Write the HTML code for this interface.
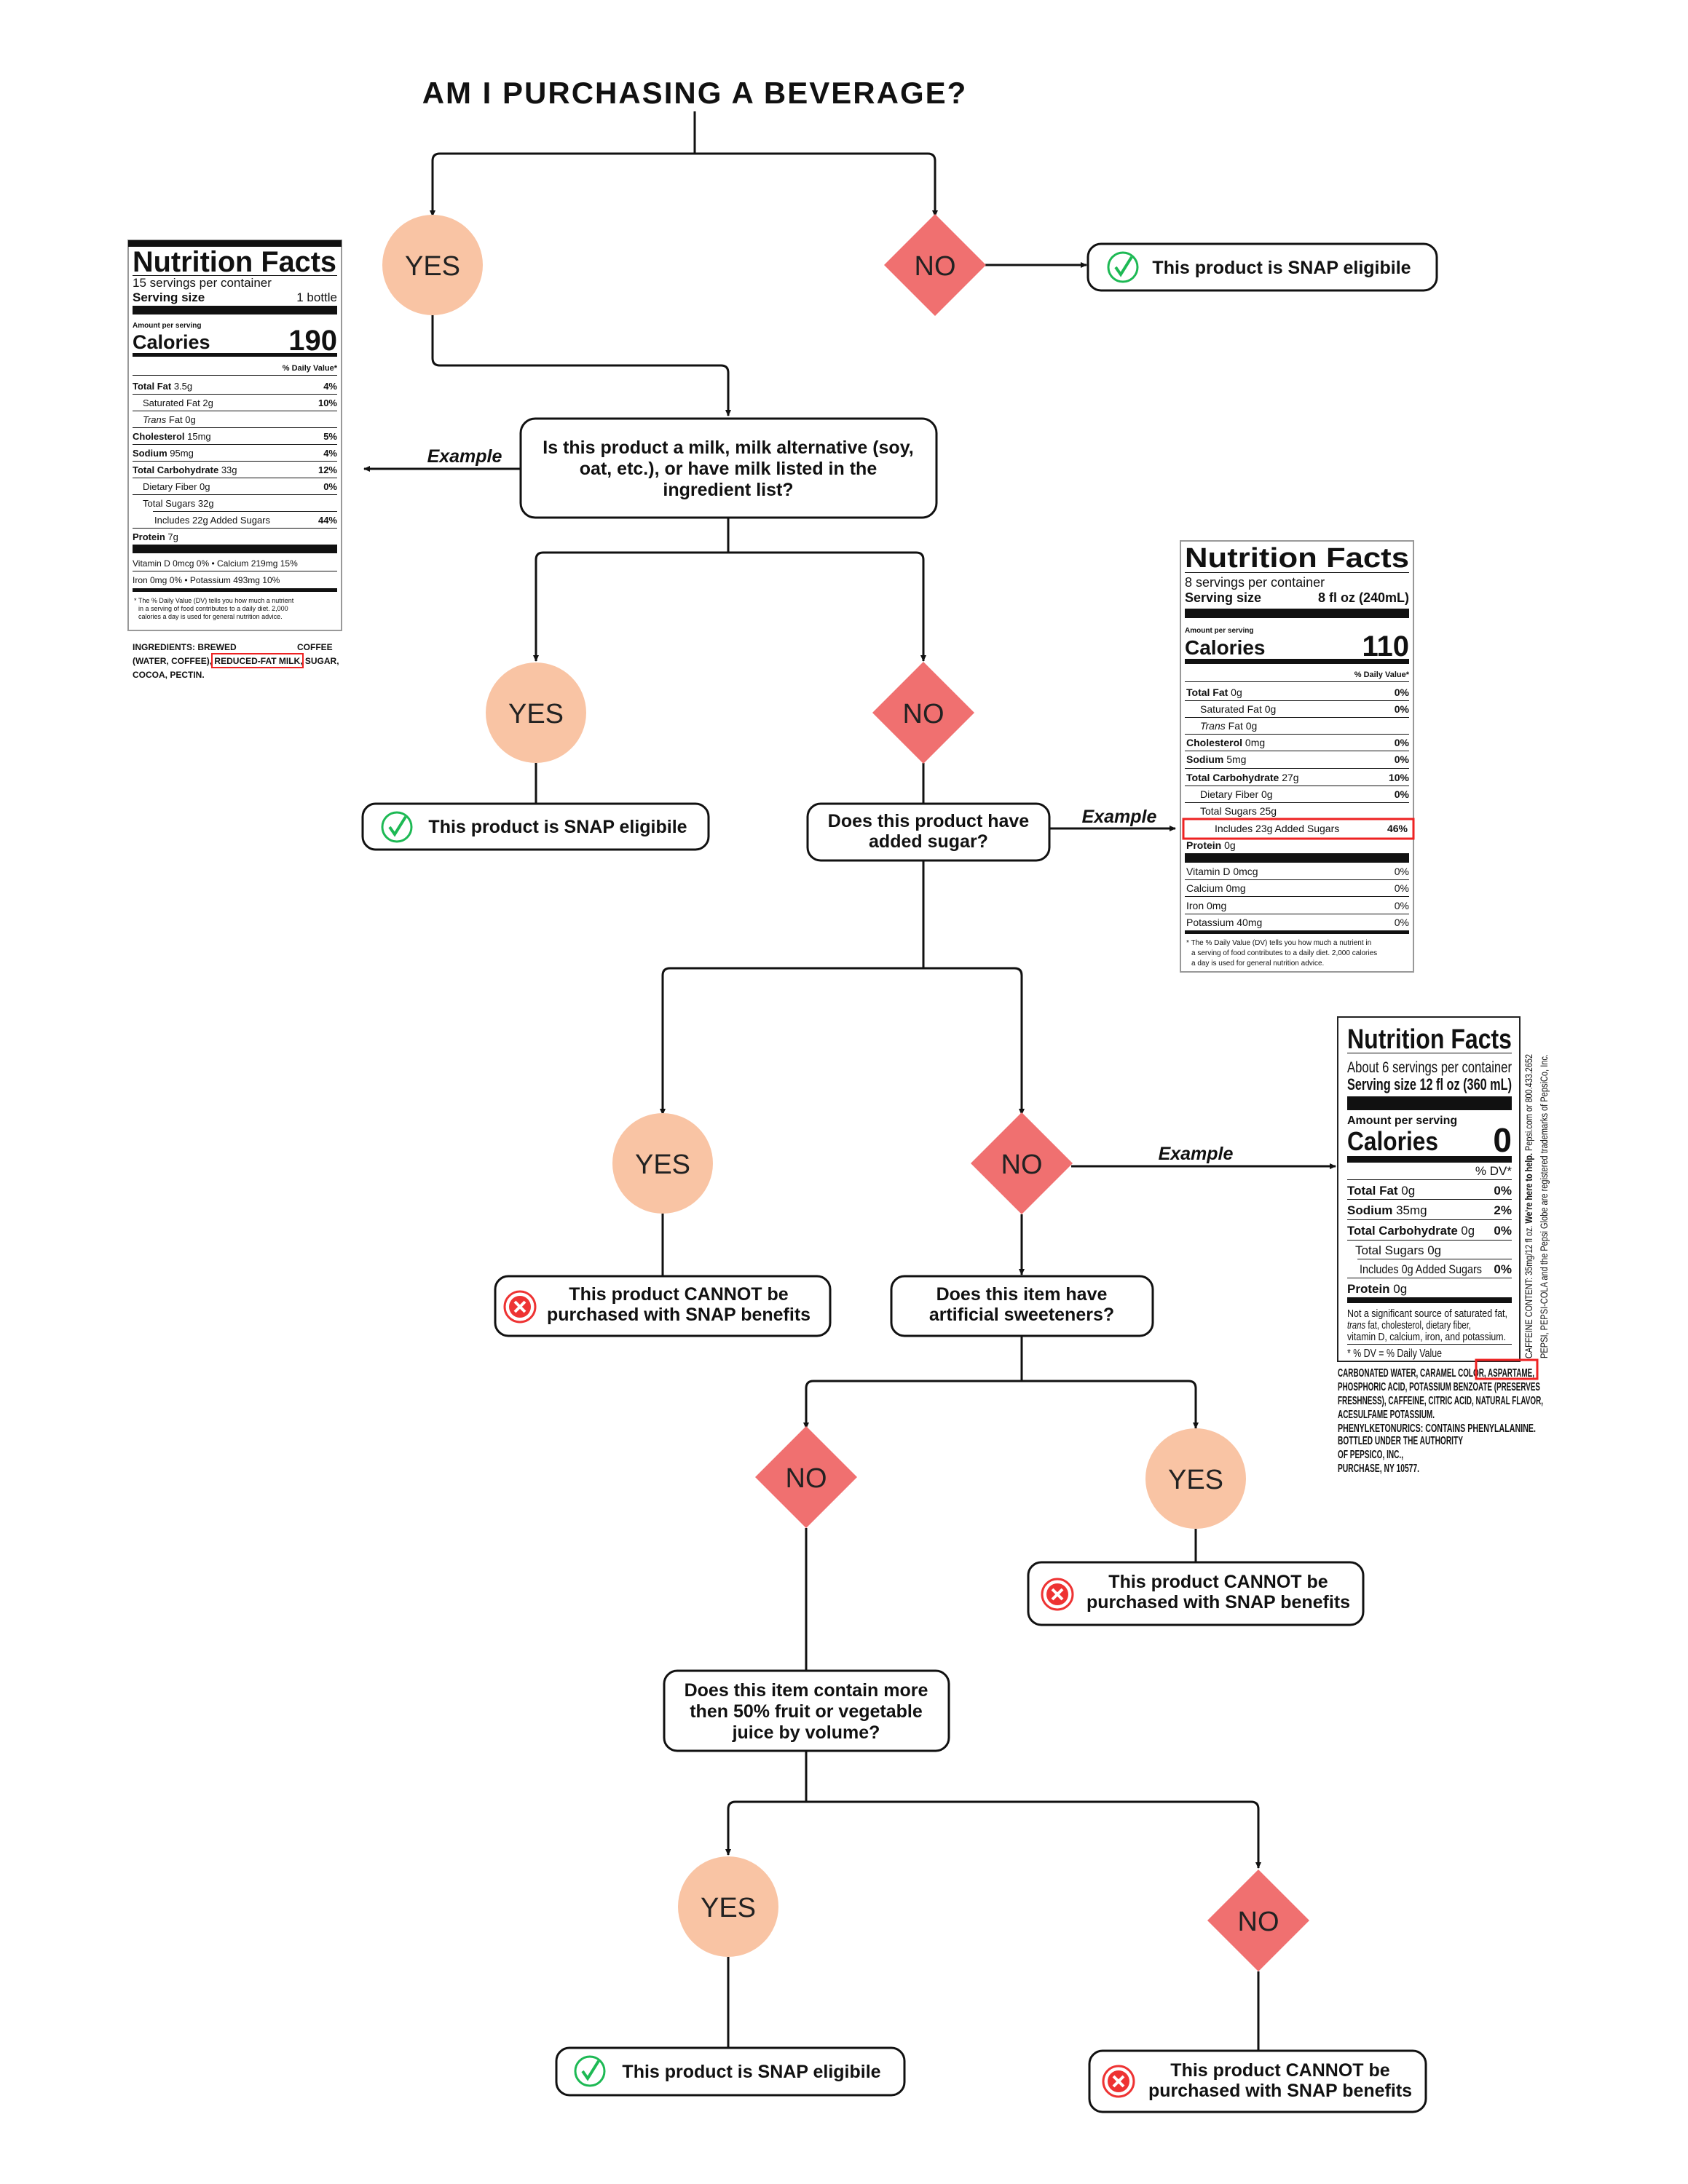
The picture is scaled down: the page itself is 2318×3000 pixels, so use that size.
<!DOCTYPE html>
<html><head><meta charset="utf-8"><style>
html,body{margin:0;padding:0;background:#fff}
svg{display:block}
text{font-family:"Liberation Sans",sans-serif}
.q{font-weight:bold;font-size:25px;fill:#111;text-anchor:middle}
.yn{font-size:38px;fill:#222;text-anchor:middle}
.ex{font-weight:bold;font-style:italic;font-size:25px;fill:#111;text-anchor:middle}
.b{fill:none;stroke:#111;stroke-width:3}
.ln{stroke:#111;stroke-width:3;fill:none}
</style></head><body>
<svg width="2318" height="3000" viewBox="0 0 2318 3000" xmlns="http://www.w3.org/2000/svg">
<defs>
<marker id="a" markerWidth="10" markerHeight="10" refX="8" refY="5" orient="auto" markerUnits="userSpaceOnUse"><path d="M0,1 L9,5 L0,9 Z" fill="#111"/></marker>
<g id="chk"><circle r="20" fill="none" stroke="#1db954" stroke-width="3"/><path d="M-10,0 L-3,10 L12,-14" fill="none" stroke="#1db954" stroke-width="4"/></g>
<g id="xx"><circle r="21" fill="none" stroke="#e33" stroke-width="3"/><circle r="15" fill="#e33"/><path d="M-7,-7 L7,7 M7,-7 L-7,7" stroke="#fff" stroke-width="4"/></g>
</defs>

<text x="954" y="142" font-size="42" font-weight="bold" text-anchor="middle" fill="#111" letter-spacing="2">AM I PURCHASING A BEVERAGE?</text>

<!-- connectors -->
<path class="ln" d="M954,153 V211 M594,297 V221 Q594,211 604,211 H1274 Q1284,211 1284,221 V297" marker-end="url(#a)"/>
<path class="ln" d="M594,221 V297" marker-end="url(#a)"/>
<path class="ln" d="M1353,364 H1492" marker-end="url(#a)"/>
<path class="ln" d="M594,433 V492 Q594,502 604,502 H990 Q1000,502 1000,512 V571" marker-end="url(#a)"/>
<path class="ln" d="M715,644 H500" marker-end="url(#a)"/>
<path class="ln" d="M1000,711 V759 M736,908 V769 Q736,759 746,759 H1258 Q1268,759 1268,769 V908" marker-end="url(#a)"/>
<path class="ln" d="M736,769 V908" marker-end="url(#a)"/>
<path class="ln" d="M736,1048 V1104 M1268,1048 V1104"/>
<path class="ln" d="M1441,1138 H1614" marker-end="url(#a)"/>
<path class="ln" d="M1268,1182 V1330 M910,1531 V1340 Q910,1330 920,1330 H1393 Q1403,1330 1403,1340 V1531" marker-end="url(#a)"/>
<path class="ln" d="M910,1340 V1531" marker-end="url(#a)"/>
<path class="ln" d="M910,1667 V1753"/>
<path class="ln" d="M1403,1668 V1751" marker-end="url(#a)"/>
<path class="ln" d="M1471,1602 H1834" marker-end="url(#a)"/>
<path class="ln" d="M1403,1835 V1897 M1107,1962 V1907 Q1107,1897 1117,1897 H1632 Q1642,1897 1642,1907 V1962" marker-end="url(#a)"/>
<path class="ln" d="M1107,1907 V1962" marker-end="url(#a)"/>
<path class="ln" d="M1642,2100 V2146 M1107,2099 V2295"/>
<path class="ln" d="M1107,2405 V2475 M1000,2548 V2485 Q1000,2475 1010,2475 H1718 Q1728,2475 1728,2485 V2566" marker-end="url(#a)"/>
<path class="ln" d="M1000,2485 V2548" marker-end="url(#a)"/>
<path class="ln" d="M1000,2688 V2813 M1728,2708 V2817"/>

<!-- nodes -->
<circle cx="594" cy="364" r="69" fill="#f9c4a4"/><text class="yn" x="594" y="378">YES</text>
<path d="M1284,294 L1354,364 L1284,434 L1214,364 Z" fill="#f07070"/><text class="yn" x="1284" y="378">NO</text>
<rect class="b" x="1494" y="335" width="479" height="64" rx="18"/><use href="#chk" x="1542" y="367"/><text class="q" x="1760" y="376">This product is SNAP eligibile</text>

<rect class="b" x="715" y="575" width="571" height="136" rx="20"/>
<text class="q" x="1000" y="623">Is this product a milk, milk alternative (soy,</text>
<text class="q" x="1000" y="652">oat, etc.), or have milk listed in the</text>
<text class="q" x="1000" y="681">ingredient list?</text>
<text class="ex" x="638" y="635">Example</text>

<circle cx="736" cy="979" r="69" fill="#f9c4a4"/><text class="yn" x="736" y="993">YES</text>
<path d="M1268,909 L1338,979 L1268,1049 L1198,979 Z" fill="#f07070"/><text class="yn" x="1268" y="993">NO</text>
<rect class="b" x="498" y="1104" width="475" height="63" rx="18"/><use href="#chk" x="545" y="1136"/><text class="q" x="766" y="1144">This product is SNAP eligibile</text>
<rect class="b" x="1109" y="1104" width="332" height="78" rx="18"/>
<text class="q" x="1275" y="1136">Does this product have</text><text class="q" x="1275" y="1164">added sugar?</text>
<text class="ex" x="1537" y="1130">Example</text>

<circle cx="910" cy="1598" r="69" fill="#f9c4a4"/><text class="yn" x="910" y="1612">YES</text>
<path d="M1403,1528 L1473,1598 L1403,1668 L1333,1598 Z" fill="#f07070"/><text class="yn" x="1403" y="1612">NO</text>
<text class="ex" x="1642" y="1593">Example</text>
<rect class="b" x="680" y="1753" width="460" height="82" rx="18"/><use href="#xx" x="714" y="1795"/>
<text class="q" x="932" y="1786">This product CANNOT be</text><text class="q" x="932" y="1814">purchased with SNAP benefits</text>
<rect class="b" x="1224" y="1753" width="359" height="82" rx="18"/>
<text class="q" x="1403" y="1786">Does this item have</text><text class="q" x="1403" y="1814">artificial sweeteners?</text>

<path d="M1107,1959 L1177,2029 L1107,2099 L1037,2029 Z" fill="#f07070"/><text class="yn" x="1107" y="2043">NO</text>
<circle cx="1642" cy="2031" r="69" fill="#f9c4a4"/><text class="yn" x="1642" y="2045">YES</text>
<rect class="b" x="1412" y="2146" width="460" height="86" rx="18"/><use href="#xx" x="1452" y="2190"/>
<text class="q" x="1673" y="2181">This product CANNOT be</text><text class="q" x="1673" y="2209">purchased with SNAP benefits</text>

<rect class="b" x="912" y="2295" width="391" height="110" rx="18"/>
<text class="q" x="1107" y="2330">Does this item contain more</text>
<text class="q" x="1107" y="2359">then 50% fruit or vegetable</text>
<text class="q" x="1107" y="2388">juice by volume?</text>

<circle cx="1000" cy="2619" r="69" fill="#f9c4a4"/><text class="yn" x="1000" y="2633">YES</text>
<path d="M1728,2568 L1798,2638 L1728,2708 L1658,2638 Z" fill="#f07070"/><text class="yn" x="1728" y="2652">NO</text>
<rect class="b" x="764" y="2813" width="478" height="65" rx="18"/><use href="#chk" x="810" y="2845"/><text class="q" x="1032" y="2854">This product is SNAP eligibile</text>
<rect class="b" x="1496" y="2817" width="462" height="84" rx="18"/><use href="#xx" x="1536" y="2859"/>
<text class="q" x="1758" y="2852">This product CANNOT be</text><text class="q" x="1758" y="2880">purchased with SNAP benefits</text>

<!-- left nutrition label -->
<g fill="#111">
<rect x="176" y="330" width="293" height="536" fill="none" stroke="#999" stroke-width="2"/>
<rect x="176" y="330" width="293" height="9" fill="#111"/>
<text x="182" y="373" font-size="40" font-weight="bold" textLength="280" lengthAdjust="spacingAndGlyphs">Nutrition Facts</text>
<rect x="182" y="378" width="281" height="1"/>
<text x="182" y="394" font-size="17">15 servings per container</text>
<text x="182" y="414" font-size="17" font-weight="bold">Serving size</text><text x="463" y="414" font-size="17" text-anchor="end">1 bottle</text>
<rect x="182" y="420" width="281" height="12"/>
<text x="182" y="450" font-size="10" font-weight="bold">Amount per serving</text>
<text x="182" y="479" font-size="27" font-weight="bold">Calories</text><text x="463" y="481" font-size="40" font-weight="bold" text-anchor="end">190</text>
<rect x="182" y="485" width="281" height="5"/>
<text x="463" y="509" font-size="11" font-weight="bold" text-anchor="end">% Daily Value*</text>
<g font-size="13">
<rect x="182" y="515" width="281" height="1"/>
<text x="182" y="535"><tspan font-weight="bold">Total Fat</tspan> 3.5g</text><text x="463" y="535" text-anchor="end" font-weight="bold">4%</text>
<rect x="182" y="541" width="281" height="1"/>
<text x="196" y="558">Saturated Fat 2g</text><text x="463" y="558" text-anchor="end" font-weight="bold">10%</text>
<rect x="182" y="564" width="281" height="1"/>
<text x="196" y="581"><tspan font-style="italic">Trans</tspan> Fat 0g</text>
<rect x="182" y="587" width="281" height="1"/>
<text x="182" y="604"><tspan font-weight="bold">Cholesterol</tspan> 15mg</text><text x="463" y="604" text-anchor="end" font-weight="bold">5%</text>
<rect x="182" y="610" width="281" height="1"/>
<text x="182" y="627"><tspan font-weight="bold">Sodium</tspan> 95mg</text><text x="463" y="627" text-anchor="end" font-weight="bold">4%</text>
<rect x="182" y="633" width="281" height="1"/>
<text x="182" y="650"><tspan font-weight="bold">Total Carbohydrate</tspan> 33g</text><text x="463" y="650" text-anchor="end" font-weight="bold">12%</text>
<rect x="182" y="656" width="281" height="1"/>
<text x="196" y="673">Dietary Fiber 0g</text><text x="463" y="673" text-anchor="end" font-weight="bold">0%</text>
<rect x="182" y="679" width="281" height="1"/>
<text x="196" y="696">Total Sugars 32g</text>
<rect x="210" y="702" width="253" height="1"/>
<text x="212" y="719">Includes 22g Added Sugars</text><text x="463" y="719" text-anchor="end" font-weight="bold">44%</text>
<rect x="182" y="725" width="281" height="1"/>
<text x="182" y="742"><tspan font-weight="bold">Protein</tspan> 7g</text>
<rect x="182" y="748" width="281" height="12"/>
<text x="182" y="778" font-size="12">Vitamin D 0mcg 0%  •  Calcium 219mg 15%</text>
<rect x="182" y="784" width="281" height="1"/>
<text x="182" y="801" font-size="12">Iron 0mg 0%     •     Potassium 493mg 10%</text>
<rect x="182" y="808" width="281" height="5"/>
</g>
<g font-size="9"><text x="184" y="828">* The % Daily Value (DV) tells you how much a nutrient</text><text x="190" y="839">in a serving of food contributes to a daily diet. 2,000</text><text x="190" y="850">calories a day is used for general nutrition advice.</text></g>
<g font-size="12" font-weight="bold"><text x="182" y="893">INGREDIENTS: BREWED</text><text x="408" y="893">COFFEE</text>
<text x="182" y="912">(WATER, COFFEE), REDUCED-FAT MILK, SUGAR,</text>
<text x="182" y="931">COCOA, PECTIN.</text></g>
<rect x="291" y="898" width="125" height="19" fill="none" stroke="#e22" stroke-width="2"/>
</g>

<!-- middle nutrition label -->
<g fill="#111">
<rect x="1621" y="743" width="320" height="592" fill="none" stroke="#999" stroke-width="2"/>
<text x="1627" y="779" font-size="38" font-weight="bold" textLength="308" lengthAdjust="spacingAndGlyphs">Nutrition Facts</text>
<rect x="1627" y="786" width="308" height="1"/>
<text x="1627" y="806" font-size="18">8 servings per container</text>
<text x="1627" y="827" font-size="18" font-weight="bold">Serving size</text><text x="1935" y="827" font-size="18" font-weight="bold" text-anchor="end">8 fl oz (240mL)</text>
<rect x="1627" y="836" width="308" height="13"/>
<text x="1627" y="869" font-size="10" font-weight="bold">Amount per serving</text>
<text x="1627" y="899" font-size="28" font-weight="bold">Calories</text><text x="1935" y="901" font-size="40" font-weight="bold" text-anchor="end">110</text>
<rect x="1627" y="905" width="308" height="7"/>
<text x="1935" y="930" font-size="11" font-weight="bold" text-anchor="end">% Daily Value*</text>
<g font-size="14">
<rect x="1627" y="936" width="308" height="1"/>
<text x="1629" y="956"><tspan font-weight="bold">Total Fat</tspan> 0g</text><text x="1935" y="956" text-anchor="end" font-weight="bold">0%</text>
<rect x="1627" y="962" width="308" height="1"/>
<text x="1648" y="979">Saturated Fat 0g</text><text x="1935" y="979" text-anchor="end" font-weight="bold">0%</text>
<rect x="1627" y="985" width="308" height="1"/>
<text x="1648" y="1002"><tspan font-style="italic">Trans</tspan> Fat 0g</text>
<rect x="1627" y="1008" width="308" height="1"/>
<text x="1629" y="1025"><tspan font-weight="bold">Cholesterol</tspan> 0mg</text><text x="1935" y="1025" text-anchor="end" font-weight="bold">0%</text>
<rect x="1627" y="1031" width="308" height="1"/>
<text x="1629" y="1048"><tspan font-weight="bold">Sodium</tspan> 5mg</text><text x="1935" y="1048" text-anchor="end" font-weight="bold">0%</text>
<rect x="1627" y="1055" width="308" height="1"/>
<text x="1629" y="1073"><tspan font-weight="bold">Total Carbohydrate</tspan> 27g</text><text x="1935" y="1073" text-anchor="end" font-weight="bold">10%</text>
<rect x="1627" y="1079" width="308" height="1"/>
<text x="1648" y="1096">Dietary Fiber 0g</text><text x="1935" y="1096" text-anchor="end" font-weight="bold">0%</text>
<rect x="1627" y="1102" width="308" height="1"/>
<text x="1648" y="1119">Total Sugars 25g</text>
<text x="1668" y="1143">Includes 23g Added Sugars</text><text x="1933" y="1143" text-anchor="end" font-weight="bold">46%</text>
<text x="1629" y="1166"><tspan font-weight="bold">Protein</tspan> 0g</text>
<rect x="1627" y="1172" width="308" height="13"/>
<text x="1629" y="1202">Vitamin D 0mcg</text><text x="1935" y="1202" text-anchor="end">0%</text>
<rect x="1627" y="1208" width="308" height="1"/>
<text x="1629" y="1225">Calcium 0mg</text><text x="1935" y="1225" text-anchor="end">0%</text>
<rect x="1627" y="1231" width="308" height="1"/>
<text x="1629" y="1249">Iron 0mg</text><text x="1935" y="1249" text-anchor="end">0%</text>
<rect x="1627" y="1255" width="308" height="1"/>
<text x="1629" y="1272">Potassium 40mg</text><text x="1935" y="1272" text-anchor="end">0%</text>
<rect x="1627" y="1278" width="308" height="5"/>
</g>
<g font-size="10"><text x="1629" y="1298">* The % Daily Value (DV) tells you how much a nutrient in</text><text x="1636" y="1312">a serving of food contributes to a daily diet. 2,000 calories</text><text x="1636" y="1326">a day is used for general nutrition advice.</text></g>
<rect x="1625" y="1125" width="316" height="27" fill="none" stroke="#e22" stroke-width="3"/>
</g>

<!-- right nutrition label -->
<g fill="#111">
<rect x="1837" y="1397" width="250" height="473" fill="none" stroke="#222" stroke-width="2"/>
<text x="1850" y="1440" font-size="38" font-weight="bold" textLength="226" lengthAdjust="spacingAndGlyphs">Nutrition Facts</text>
<rect x="1850" y="1446" width="226" height="1"/>
<text x="1850" y="1473" font-size="21" textLength="226" lengthAdjust="spacingAndGlyphs">About 6 servings per container</text>
<text x="1850" y="1497" font-size="22" font-weight="bold" textLength="226" lengthAdjust="spacingAndGlyphs">Serving size 12 fl oz (360 mL)</text>
<rect x="1850" y="1506" width="226" height="19"/>
<text x="1850" y="1544" font-size="16" font-weight="bold">Amount per serving</text>
<text x="1850" y="1580" font-size="36" font-weight="bold" textLength="125" lengthAdjust="spacingAndGlyphs">Calories</text><text x="2076" y="1582" font-size="46" font-weight="bold" text-anchor="end">0</text>
<rect x="1850" y="1588" width="226" height="9"/>
<text x="2076" y="1614" font-size="17" text-anchor="end">% DV*</text>
<g font-size="17">
<rect x="1850" y="1620" width="226" height="1"/>
<text x="1850" y="1641"><tspan font-weight="bold">Total Fat</tspan> 0g</text><text x="2076" y="1641" text-anchor="end" font-weight="bold">0%</text>
<rect x="1850" y="1647" width="226" height="1"/>
<text x="1850" y="1668"><tspan font-weight="bold">Sodium</tspan> 35mg</text><text x="2076" y="1668" text-anchor="end" font-weight="bold">2%</text>
<rect x="1850" y="1675" width="226" height="1"/>
<text x="1850" y="1696" textLength="175" lengthAdjust="spacingAndGlyphs"><tspan font-weight="bold">Total Carbohydrate</tspan> 0g</text><text x="2076" y="1696" text-anchor="end" font-weight="bold">0%</text>
<rect x="1850" y="1703" width="226" height="1"/>
<text x="1861" y="1723">Total Sugars 0g</text>
<rect x="1864" y="1729" width="212" height="1"/>
<text x="1867" y="1749" textLength="168" lengthAdjust="spacingAndGlyphs">Includes 0g Added Sugars</text><text x="2076" y="1749" text-anchor="end" font-weight="bold">0%</text>
<rect x="1850" y="1755" width="226" height="1"/>
<text x="1850" y="1776"><tspan font-weight="bold">Protein</tspan> 0g</text>
<rect x="1850" y="1782" width="226" height="8"/>
</g>
<g font-size="15"><text x="1850" y="1809" textLength="220" lengthAdjust="spacingAndGlyphs">Not a significant source of saturated fat,</text><text x="1850" y="1825" textLength="170" lengthAdjust="spacingAndGlyphs"><tspan font-style="italic">trans</tspan> fat, cholesterol, dietary fiber,</text><text x="1850" y="1841" textLength="218" lengthAdjust="spacingAndGlyphs">vitamin D, calcium, iron, and potassium.</text></g>
<rect x="1850" y="1846" width="226" height="1"/>
<text x="1850" y="1864" font-size="16" textLength="130" lengthAdjust="spacingAndGlyphs">* % DV = % Daily Value</text>
<g font-size="16" font-weight="bold">
<text x="1837" y="1891" textLength="270" lengthAdjust="spacingAndGlyphs">CARBONATED WATER, CARAMEL COLOR, ASPARTAME,</text>
<text x="1837" y="1910" textLength="278" lengthAdjust="spacingAndGlyphs">PHOSPHORIC ACID, POTASSIUM BENZOATE (PRESERVES</text>
<text x="1837" y="1929" textLength="282" lengthAdjust="spacingAndGlyphs">FRESHNESS), CAFFEINE, CITRIC ACID, NATURAL FLAVOR,</text>
<text x="1837" y="1948" textLength="133" lengthAdjust="spacingAndGlyphs">ACESULFAME POTASSIUM.</text>
<text x="1837" y="1967" textLength="272" lengthAdjust="spacingAndGlyphs">PHENYLKETONURICS: CONTAINS PHENYLALANINE.</text>
<text x="1837" y="1984" textLength="172" lengthAdjust="spacingAndGlyphs">BOTTLED UNDER THE AUTHORITY</text>
<text x="1837" y="2003" textLength="90" lengthAdjust="spacingAndGlyphs">OF PEPSICO, INC.,</text>
<text x="1837" y="2022" textLength="112" lengthAdjust="spacingAndGlyphs">PURCHASE, NY 10577.</text>
</g>
<rect x="2027" y="1868" width="84" height="26" fill="none" stroke="#e22" stroke-width="3"/>
<text transform="translate(2104,1866) rotate(-90)" font-size="14" textLength="418" lengthAdjust="spacingAndGlyphs">CAFFEINE CONTENT: 35mg/12 fl oz. <tspan font-weight="bold">We're here to help.</tspan> Pepsi.com or 800.433.2652</text>
<text transform="translate(2125,1866) rotate(-90)" font-size="14" textLength="418" lengthAdjust="spacingAndGlyphs">PEPSI, PEPSI-COLA and the Pepsi Globe are registered trademarks of PepsiCo, Inc.</text>
</g>
</svg>
</body></html>
